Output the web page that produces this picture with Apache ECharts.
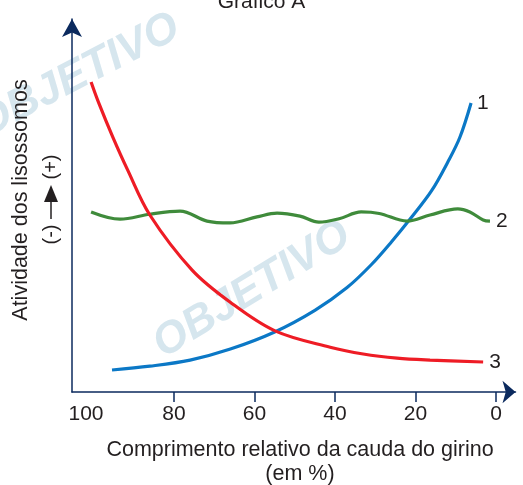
<!DOCTYPE html>
<html>
<head>
<meta charset="utf-8">
<script src="https://cdn.jsdelivr.net/npm/echarts@6/dist/echarts.min.js"></script>
<style>html,body{margin:0;padding:0;background:#fff}#c{width:523px;height:485px}</style>
</head>
<body>
<div id="c"></div>
<script>
// x: comprimento relativo da cauda (%), y: atividade (relative units)
const xTicks = [100, 80, 60, 40, 20, 0];
const curve1 = [[95.4,5.8],[86.0,6.8],[76.0,8.4],[66.0,11.3],[55.0,15.8],[45.0,21.5],[37.0,27.5],[31.0,33.5],[26.0,39.5],[21.0,46.0],[16.0,53.0],[12.0,60.5],[9.0,67.0],[6.2,76.1]];
const curve2 = [[100.6,47.4],[93.4,45.5],[86.0,46.8],[78.5,47.6],[71.8,45.0],[66.1,44.5],[59.4,46.1],[54.4,47.1],[48.7,46.3],[44.0,44.7],[39.0,45.6],[33.5,47.4],[29.0,47.0],[22.1,45.0],[16.4,46.6],[9.5,48.2],[6.5,47.4],[3.2,45.3],[1.5,45.0]];
const curve3 = [[100.6,81.6],[98.7,76.1],[95.2,67.1],[91.5,58.4],[86.0,46.6],[75.5,32.1],[66.1,23.7],[54.9,16.1],[41.2,11.8],[33.0,10.0],[24.6,8.9],[16.4,8.4],[3.2,7.9]];
const names = ['1', '2', '3'];
const colors = ['#0b78c6', '#3f8b3b', '#ee1c25'];

const chart = echarts.init(document.getElementById('c'), null, {renderer: 'canvas'});
const FONT = 'Liberation Sans, Arial, sans-serif';
const TXT = '#231f20';

function mk(data, name, color) {
  return {
    type: 'line', name: name, smooth: 0.35, showSymbol: true, symbol: 'circle', symbolSize: 0,
    lineStyle: {color: color, width: 3.2}, itemStyle: {color: color}, z: 5,
    silent: true, animation: false,
    data: data.map((p, i) => i === data.length - 1
      ? {value: p, label: {show: true, position: 'right', distance: 6, formatter: name, fontSize: 21, color: TXT, fontFamily: FONT}}
      : {value: p})
  };
}

const wm = '#d6e6ee';
chart.setOption({
  animation: false,
  title: {text: 'Gráfico A', left: 'center', top: -13, textStyle: {fontSize: 21, fontWeight: 'normal', color: TXT, fontFamily: FONT}},
  grid: {left: 72, right: 7.5, top: 19, bottom: 93, containLabel: false},
  xAxis: {
    type: 'value', inverse: true, min: -4.84, max: 105.34,
    axisLine: {show: true, onZero: false, lineStyle: {color: '#0b2a5e', width: 1.5}, symbol: ['none', 'arrow'], symbolSize: [17, 13]},
    axisTick: {show: true, customValues: xTicks.slice(1), length: 10, inside: false, lineStyle: {color: '#0b2a5e', width: 1.5}},
    axisLabel: {show: true, customValues: xTicks, margin: 12, fontSize: 21, color: TXT, fontFamily: FONT,
      formatter: v => v === 100 ? '{a|' + v + '}' : String(v),
      rich: {a: {fontSize: 21, color: TXT, fontFamily: FONT, padding: [0, 15, 0, 0]}}},
    splitLine: {show: false}
  },
  yAxis: {
    type: 'value', min: 0, max: 98.2, position: 'left',
    axisLine: {show: true, onZero: false, lineStyle: {color: '#0b2a5e', width: 1.5}, symbol: ['none', 'arrow'], symbolSize: [15, 18]},
    axisTick: {show: false}, axisLabel: {show: false}, splitLine: {show: false}
  },
  graphic: [
    {type: 'text', z: -10, x: 78, y: 76, rotation: 0.48,
     style: {text: 'OBJETIVO', fontSize: 44, fontWeight: 'bold', fontStyle: 'italic', fill: wm, align: 'center', verticalAlign: 'middle', fontFamily: FONT}},
    {type: 'text', z: -10, x: 252, y: 290, rotation: 0.55,
     style: {text: 'OBJETIVO', fontSize: 44, fontWeight: 'bold', fontStyle: 'italic', fill: wm, align: 'center', verticalAlign: 'middle', fontFamily: FONT}},
    {type: 'text', z: 1, x: 21, y: 200, rotation: Math.PI / 2,
     style: {text: 'Atividade dos lisossomos', fontSize: 21.5, fill: TXT, align: 'center', verticalAlign: 'middle', fontFamily: FONT}},
    {type: 'text', z: 1, x: 51.5, y: 234.5, rotation: Math.PI / 2,
     style: {text: '(-)', fontSize: 20, fill: TXT, align: 'center', verticalAlign: 'middle', fontFamily: FONT}},
    {type: 'text', z: 1, x: 51.5, y: 167, rotation: Math.PI / 2,
     style: {text: '(+)', fontSize: 20, fill: TXT, align: 'center', verticalAlign: 'middle', fontFamily: FONT}},
    {type: 'line', z: 1, shape: {x1: 51, y1: 219, x2: 51, y2: 200}, style: {stroke: TXT, lineWidth: 1.5}},
    {type: 'polygon', z: 1, shape: {points: [[44, 202], [58, 202], [51, 185]]}, style: {fill: TXT}},
    {type: 'text', z: 1, x: 300, y: 450,
     style: {text: 'Comprimento relativo da cauda do girino', fontSize: 21.5, fill: TXT, align: 'center', verticalAlign: 'middle', fontFamily: FONT}},
    {type: 'text', z: 1, x: 300, y: 474,
     style: {text: '(em %)', fontSize: 21.5, fill: TXT, align: 'center', verticalAlign: 'middle', fontFamily: FONT}}
  ],
  series: [mk(curve1, names[0], colors[0]), mk(curve2, names[1], colors[1]), mk(curve3, names[2], colors[2])]
});
</script>
</body>
</html>
